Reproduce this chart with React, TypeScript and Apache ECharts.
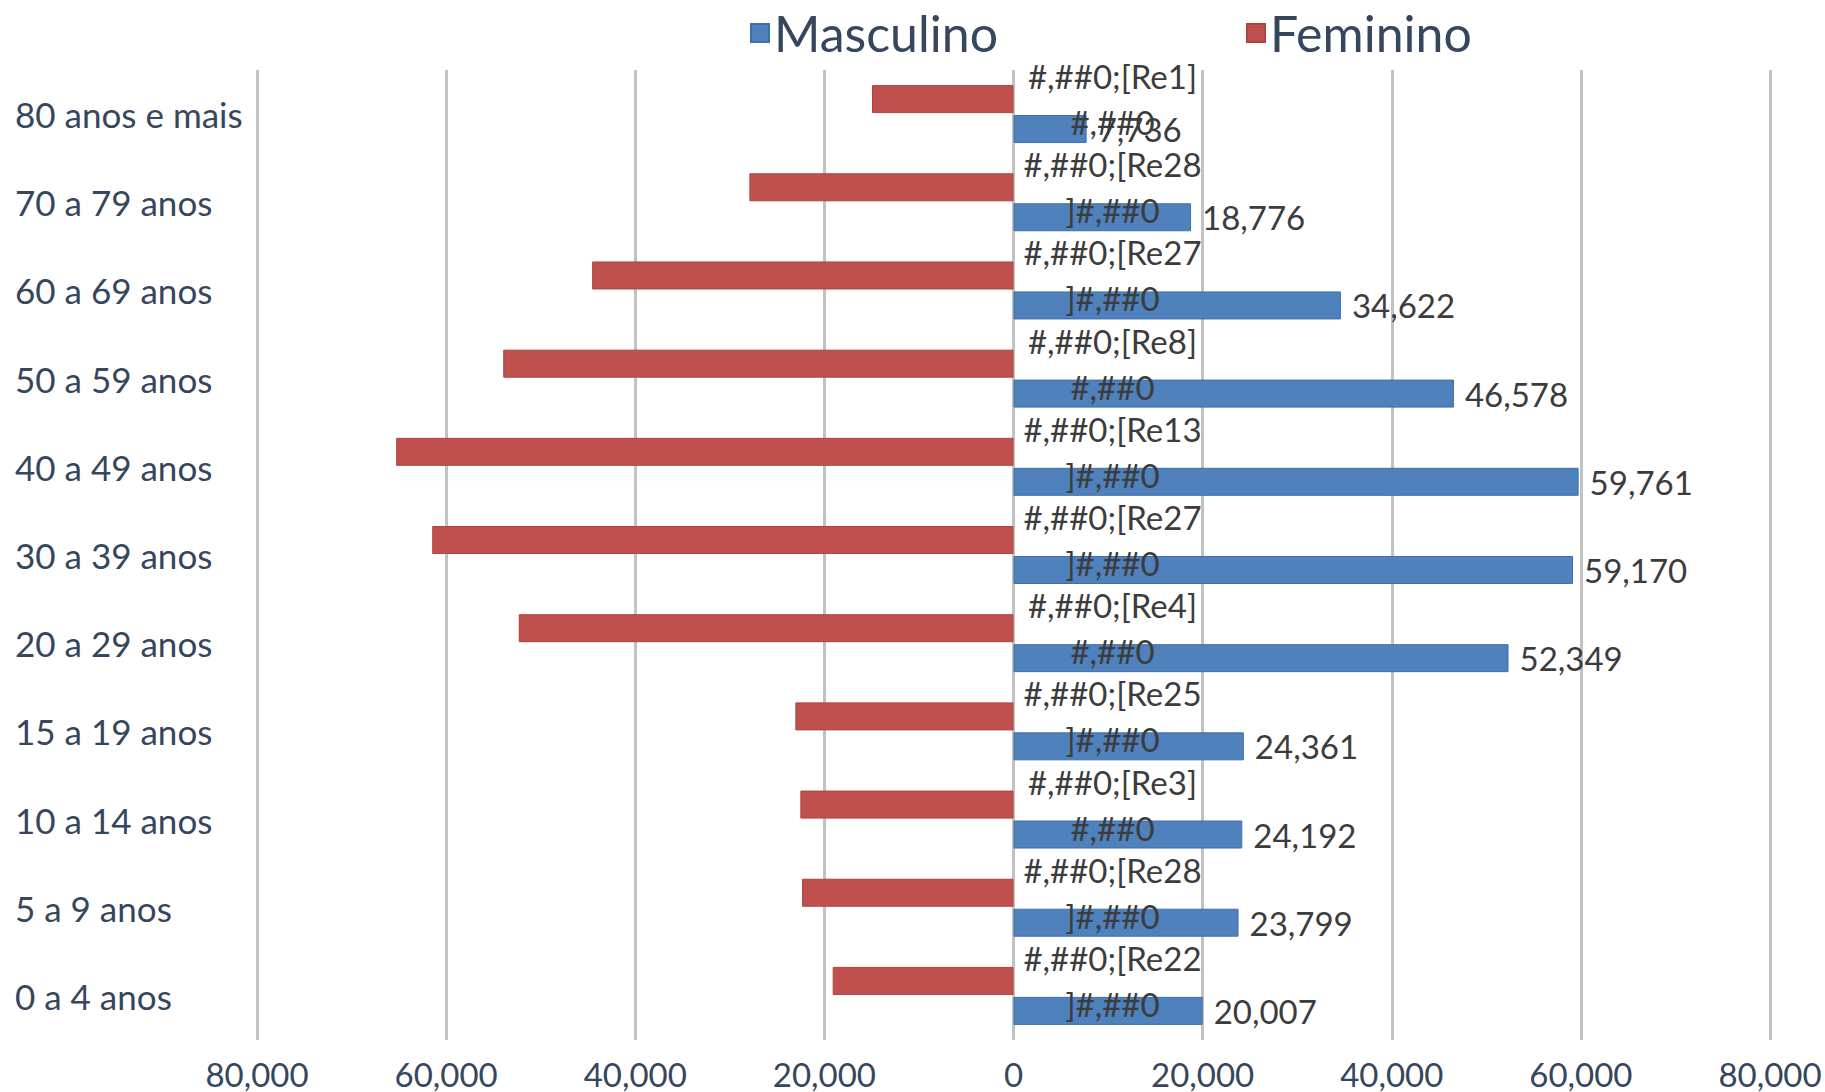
import React, { useEffect, useRef } from "react";
import * as echarts from "echarts";

// Categories, top to bottom as in the reference
const categories = [
  "80 anos e mais",
  "70 a 79 anos",
  "60 a 69 anos",
  "50 a 59 anos",
  "40 a 49 anos",
  "30 a 39 anos",
  "20 a 29 anos",
  "15 a 19 anos",
  "10 a 14 anos",
  "5 a 9 anos",
  "0 a 4 anos",
];

const masculino = [7736, 18776, 34622, 46578, 59761, 59170, 52349, 24361, 24192, 23799, 20007];
const feminino = [14960, 27930, 44560, 53960, 65280, 61470, 52320, 23070, 22540, 22360, 19120];

// Broken Excel number-format labels shown for the Feminino series
const femininoLabels = [
  "#,##0;[Re1]\n#,##0",
  "#,##0;[Re28\n]#,##0",
  "#,##0;[Re27\n]#,##0",
  "#,##0;[Re8]\n#,##0",
  "#,##0;[Re13\n]#,##0",
  "#,##0;[Re27\n]#,##0",
  "#,##0;[Re4]\n#,##0",
  "#,##0;[Re25\n]#,##0",
  "#,##0;[Re3]\n#,##0",
  "#,##0;[Re28\n]#,##0",
  "#,##0;[Re22\n]#,##0",
];

const axisMin = -80000;
const axisMax = 80000;
const axisInterval = 20000;

const fmt = (v: number) => Math.abs(v).toLocaleString("en-US");

export default function App() {
  const ref = useRef<HTMLDivElement>(null);

  useEffect(() => {
    if (!ref.current) return;
    const chart = echarts.init(ref.current, null, { renderer: "svg" });
    const font = "Lato, 'Open Sans', sans-serif";
    const axisColor = "#36465c";
    const labelColor = "#3c3c3c";

    const legendBase = {
      top: 8,
      padding: 0,
      icon: "rect",
      itemWidth: 18,
      itemHeight: 18,
      textStyle: { fontSize: 50, color: axisColor, fontFamily: font },
    };

    chart.setOption({
      animation: false,
      backgroundColor: "#ffffff",
      textStyle: { fontFamily: font },
      legend: [
        { ...legendBase, data: ["Masculino"], left: 750 },
        { ...legendBase, data: ["Feminino"], left: 1246 },
      ],
      grid: {
        left: 257,
        right: 55,
        top: 70,
        bottom: 52,
        containLabel: false,
        outerBoundsMode: "none",
      },
      xAxis: {
        type: "value",
        min: axisMin,
        max: axisMax,
        interval: axisInterval,
        axisLine: { show: false },
        axisTick: { show: false },
        splitLine: { show: true, lineStyle: { color: "#c2c2c2", width: 3 } },
        axisLabel: {
          formatter: (v: number) => fmt(v),
          fontSize: 33,
          lineHeight: 33,
          color: axisColor,
          margin: 17,
          fontFamily: font,
          showMinLabel: true,
          showMaxLabel: true,
        },
      },
      yAxis: {
        type: "category",
        data: categories,
        inverse: true,
        axisLine: { show: false, onZero: false },
        axisTick: { show: false },
        splitLine: { show: false },
        axisLabel: {
          align: "left",
          margin: 242,
          fontSize: 35,
          color: axisColor,
          fontFamily: font,
        },
      },
      series: [
        {
          name: "Feminino",
          type: "bar",
          data: feminino.map((v) => -v),
          barWidth: 28,
          barGap: "7%",
          z: 3,
          itemStyle: { color: "#C0504D", borderColor: "#b0423f", borderWidth: 1 },
          label: {
            show: true,
            position: "right",
            distance: 0,
            align: "center",
            verticalAlign: "middle",
            offset: [99, 0],
            lineHeight: 46,
            fontSize: 33,
            color: labelColor,
            fontFamily: font,
            formatter: (p: any) => femininoLabels[p.dataIndex],
          },
        },
        {
          name: "Masculino",
          type: "bar",
          data: masculino,
          barWidth: 28,
          barGap: "7%",
          itemStyle: { color: "#4F81BD", borderColor: "#3f6fa8", borderWidth: 1 },
          label: {
            show: true,
            position: "right",
            distance: 11,
            fontSize: 33,
            color: labelColor,
            fontFamily: font,
            formatter: (p: any) => fmt(p.value),
          },
        },
      ],
    });

    return () => chart.dispose();
  }, []);

  return (
    <div
      ref={ref}
      style={{ position: "fixed", left: 0, top: 0, width: 1825, height: 1092 }}
    />
  );
}
